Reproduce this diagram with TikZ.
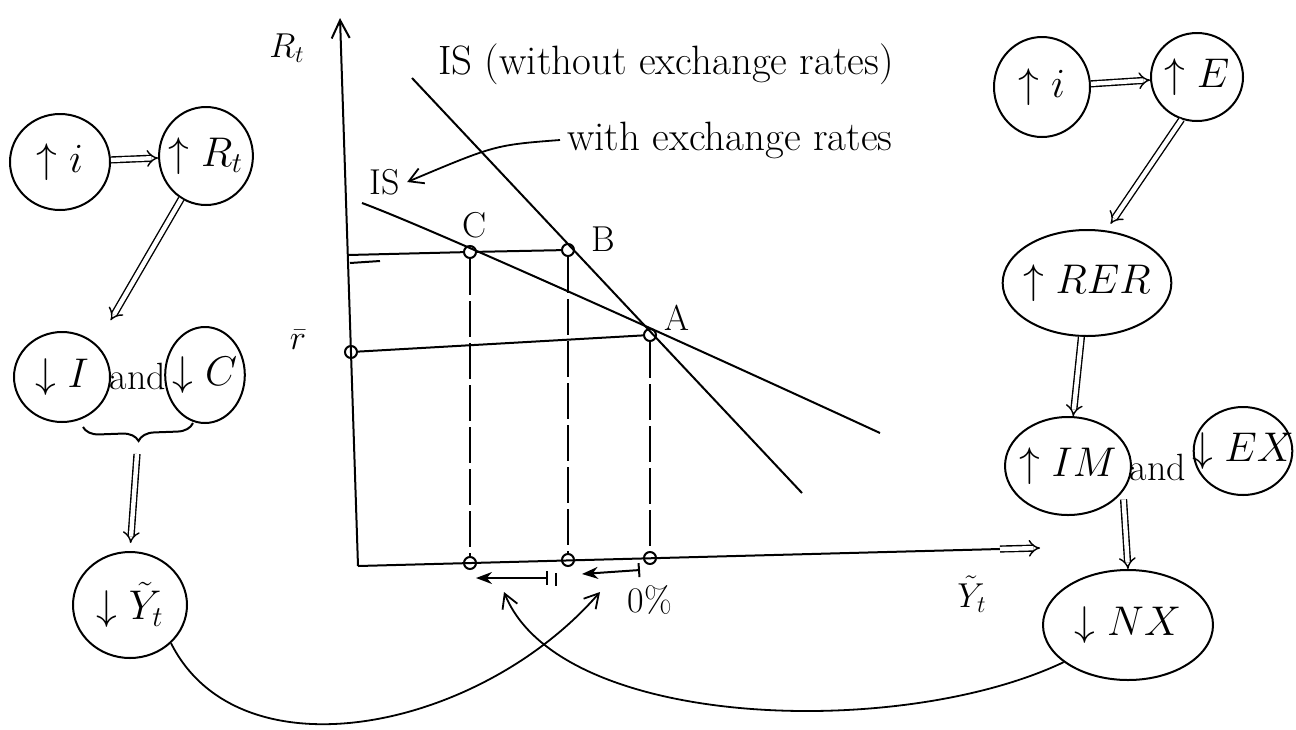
\documentclass[tikz,border=0pt]{standalone}
\usepackage{tikz}
\usetikzlibrary{arrows.meta,shapes.geometric,decorations.pathreplacing}

\begin{document}
\begin{tikzpicture}[x=0.5pt, y=-0.5pt,
    bub/.style={draw, ellipse, line width=1pt, inner sep=-2pt,
                font=\fontsize{20}{24}\selectfont},
    lbl/.style={font=\fontsize{18}{22}\selectfont},
    note/.style={anchor=west, font=\fontsize{20.5}{24}\selectfont},
    pt/.style={draw, circle, line width=1pt, minimum size=6pt, inner sep=0pt},
    ln/.style={line width=1pt},
    dbl/.style={double, double distance=2.2pt, line width=0.7pt, -{Implies}},
    arr/.style={line width=0.9pt, -{Straight Barb[length=7pt, width=8pt]}},
    drop/.style={line width=1pt, dash pattern=on 18pt off 3pt}
  ]
  \useasboundingbox (0,0) rectangle (1296,729);

  % left chain
  \node[bub, minimum width=50pt, minimum height=48pt] (il) at (60,162) {$\uparrow i$};
  \node[bub, minimum width=41pt, minimum height=49pt] (rt) at (206,156) {$\uparrow R_t$};
  \node[bub, minimum width=48pt, minimum height=45pt] (inv) at (62,377) {$\downarrow I$};
  \node[lbl, font=\fontsize{19}{22}\selectfont] (and1) at (138,376) {and};
  \node[bub, minimum width=37pt, minimum height=48pt] (cons) at (205,375) {$\downarrow C$};
  \node[bub, minimum width=57pt, minimum height=53pt] (yt) at (130,605) {$\downarrow\tilde{Y}_t$};
  \coordinate (br1) at (83,427);
  \coordinate (br2) at (193,423);
  \coordinate (brtip) at (137,454);

  \draw[dbl] (il) -- (rt);
  \draw[dbl, shorten >=14pt] (rt.240) -- (inv.north east);
  \draw[ln, decorate, decoration={brace, mirror, amplitude=8pt}] (br1) -- (br2);
  \draw[dbl, shorten >=4pt] (brtip) -- (yt.north);

  % axes
  \coordinate (o) at (358,566);
  \coordinate (ytop) at (340,18);
  \coordinate (xarr) at (1000,549);
  \coordinate (xend) at (1040,548);
  \draw[ln, -{Straight Barb[length=9pt, width=9pt]}] (o) -- (ytop);
  \draw[ln] (o) -- (xarr);
  \draw[dbl] (xarr) -- (xend);
  \node[lbl] (rtlbl) at (287,48) {$R_t$};
  \node[lbl] (ytlbl) at (972,594) {$\tilde{Y}_t$};

  % IS curves
  \coordinate (w1) at (412,78);
  \coordinate (w2) at (802,493);
  \coordinate (s1) at (362,203);
  \coordinate (s2) at (880,433);
  \draw[ln] (w1) -- (w2);
  \draw[ln] (s1) .. controls (430,228) and (700,350) .. (s2);
  \node[note] (wolbl) at (431,64) {IS (without exchange rates)};
  \node[note] (withlbl) at (560,140) {with exchange rates};
  \node[lbl] (islbl) at (385,182) {IS};
  \draw[arr] (withlbl.west) .. controls (495,145) .. (islbl.east);

  % points
  \node[pt] (A) at (650,335) {};
  \node[pt] (B) at (568,250) {};
  \node[pt] (C) at (470,252) {};
  \node[pt] (rbar) at (351,352) {};
  \node[pt] (Ax) at (650,558) {};
  \node[pt] (Bx) at (568,560) {};
  \node[pt] (Cx) at (470,563) {};
  \coordinate (cax) at (348,255);
  \node[lbl] (Albl) at (677,318) {A};
  \node[lbl] (Blbl) at (603,239) {B};
  \node[lbl] (Clbl) at (475,225) {C};
  \node[lbl] (rbarlbl) at (298,340) {$\bar{r}$};

  \draw[ln] (cax) -- (C) -- (B);
  \draw[ln] (350,263) -- (380,261);
  \draw[ln] (rbar) -- (A);
  \draw[drop] (C) -- (Cx);
  \draw[drop] (B) -- (Bx);
  \draw[drop] (A) -- (Ax);

  % shifts along the axis
  \coordinate (d1a) at (548,578);
  \coordinate (d1b) at (476,578);
  \coordinate (d2a) at (640,570);
  \coordinate (d2b) at (582,574);
  \draw[ln, |-{Stealth[length=8pt]}] (d1a) -- (d1b);
  \draw[ln] (556,573) -- (556,586);
  \draw[ln, |-{Stealth[length=8pt]}] (d2a) -- (d2b);
  \node[lbl] (zero) at (650,600) {0\%};

  % right chain
  \node[bub, minimum width=48pt, minimum height=50pt] (ir) at (1042,87) {$\uparrow i$};
  \node[bub, minimum width=46pt, minimum height=44pt] (ex) at (1197,77) {$\uparrow E$};
  \node[bub, minimum width=83pt, minimum height=53pt] (rer) at (1087,283) {$\uparrow RER$};
  \node[bub, minimum width=55pt, minimum height=49pt] (im) at (1068,466) {$\uparrow IM$};
  \node[lbl, font=\fontsize{19}{22}\selectfont] (and2) at (1158,467) {and};
  \node[bub, minimum width=48pt, minimum height=44pt, inner xsep=-8pt] (exp) at (1243,451) {$\downarrow EX$};
  \node[bub, minimum width=85pt, minimum height=55pt] (nx) at (1128,625) {$\downarrow NX$};

  \draw[dbl] (ir) -- (ex);
  \draw[dbl, shorten >=4pt] (ex.250) -- (rer.70);
  \draw[dbl] (rer) -- (im);
  \draw[dbl, shorten <=6pt] (and2.south west) -- (nx.north);

  % effects back on output
  \coordinate (tip1) at (600,592);
  \coordinate (tip2) at (504,592);
  \draw[arr] (yt.south east) .. controls (240,780) and (480,730) .. (tip1);
  \draw[arr] (nx.210) .. controls (900,740) and (560,730) .. (tip2);
\end{tikzpicture}
\end{document}
